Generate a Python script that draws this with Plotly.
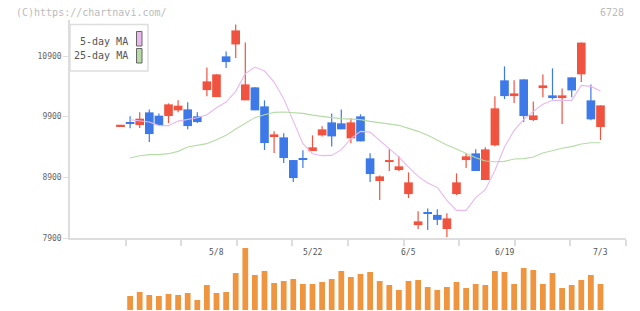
import plotly.graph_objects as go

dates = ["4/19","4/22","4/23","4/24","4/25","4/26","4/30",
         "5/1","5/2","5/7","5/8","5/9","5/10","5/13","5/14","5/15","5/16","5/17",
         "5/20","5/21","5/22","5/23","5/24","5/27","5/28","5/29","5/30","5/31",
         "6/3","6/4","6/5","6/6","6/7","6/10","6/11","6/12","6/13","6/14",
         "6/17","6/18","6/19","6/20","6/21","6/24","6/25","6/26","6/27","6/28",
         "7/1","7/2","7/3"]

opens  = [9745,9806,9762,9971,9916,9910,10004,10020,9905,10338,10223,10894,11091,10169,10383,10070,9580,
          9559,9185,9205,9333,9592,9806,9790,9542,9905,9213,8839,9152,9020,8624,8113,8322,8281,8048,
          8624,9185,9295,8856,9427,10499,10239,10515,9844,10371,10251,10207,10548,10598,10169,9729]
highs  = [9755,9905,9971,10020,9954,10119,10169,10136,9971,10712,10597,10976,11421,11124,10383,10169,9658,
          9625,9185,9345,9592,9740,9954,10020,9872,9938,9295,8932,9361,9246,8982,8339,8388,8372,8306,
          8965,9295,9361,9394,10235,10729,10499,10515,10152,10597,10696,10366,10548,11121,10432,10086]
lows   = [9745,9707,9712,9481,9762,9795,9971,9691,9795,10235,10223,10701,10866,10169,10004,9350,9300,
          9135,8822,9053,9333,9575,9410,9691,9460,9493,8822,8526,9004,9004,8558,8048,8030,8113,7915,
          8608,9053,9004,8856,9411,10190,10124,9811,9827,10218,10185,9778,10218,10470,9839,9514]
closes = [9755,9781,9867,9613,9762,10103,10081,9745,9811,10482,10597,10800,11322,10432,10004,9465,9608,
          9218,8888,9188,9394,9691,9575,9691,9806,9493,8954,8916,9185,9081,8817,8174,8306,8199,8223,
          8817,9246,9004,9361,10037,10239,10284,9910,9921,10416,10207,10251,10333,11121,9856,10086]

ma5  = [None,9850,9834,9811,9752,9752,9827,9860,9883,9933,10048,10141,10317,10609,10718,10652,10470,
        10197,9811,9455,9290,9257,9262,9356,9537,9658,9646,9509,9373,9234,9069,8916,8806,8735,8521,
        8356,8356,8565,8697,9013,9399,9674,9851,9987,10103,10169,10169,10169,10416,10399,10322]
ma25 = [None,9220,9257,9274,9274,9290,9328,9399,9432,9455,9521,9592,9696,9795,9884,9933,9971,
        9976,9966,9954,9926,9900,9884,9867,9860,9851,9823,9801,9785,9757,9707,9658,9592,9510,9432,
        9366,9295,9224,9168,9158,9163,9201,9208,9234,9300,9340,9378,9406,9449,9471,9471]

volumes = [None,14000,18000,15000,14000,16000,15000,17000,10000,25000,17000,18000,37000,62000,35000,39000,27000,
           29000,31000,26000,26000,28000,31000,39000,33000,36000,38000,29000,25000,20000,29000,30000,23000,
           20000,23000,28000,22000,26000,25000,39000,38000,26000,42000,40000,26000,37000,22000,25000,30000,
           35000,26000]

label_dates = ["5/8", "5/22", "6/5", "6/19", "7/3"]
ytick_vals = [7900, 8900, 9900, 10900]

RED = "#f05340"
BLUE = "#3e79e8"
ORANGE = "#f0953f"
PINK = "#e9b8ef"
GREEN = "#b6dba6"
AXIS = "#dddddd"

n = len(dates)
xs = list(range(n))
up = [c > o for o, c in zip(opens, closes)]
cols = [RED if u else BLUE for u in up]

fig = go.Figure()

# wicks
for flag, col in ((True, RED), (False, BLUE)):
    wx, wy = [], []
    for i in xs:
        if up[i] == flag:
            wx += [i, i, None]
            wy += [lows[i], highs[i], None]
    fig.add_trace(go.Scatter(x=wx, y=wy, mode="lines", line=dict(color=col, width=1.2),
                             hoverinfo="skip", showlegend=False))

# bodies
body_base = [min(o, c) for o, c in zip(opens, closes)]
body_h = [max(abs(c - o), 22) for o, c in zip(opens, closes)]
fig.add_trace(go.Bar(x=xs, y=body_h, base=body_base, width=0.9,
                     marker=dict(color=cols, line=dict(width=0)), showlegend=False))

# moving averages
fig.add_trace(go.Scatter(x=xs, y=ma5, mode="lines", line=dict(color=PINK, width=1.1), showlegend=False))
fig.add_trace(go.Scatter(x=xs, y=ma25, mode="lines", line=dict(color=GREEN, width=1.1), showlegend=False))

# volume
fig.add_trace(go.Bar(x=xs, y=volumes, width=0.6, marker=dict(color=ORANGE, line=dict(width=0)),
                     yaxis="y2", showlegend=False))

W, H = 640, 311
left_px, right_px = 70, 626
x0 = (left_px - 120.5) / 9.6
x1 = (right_px - 120.5) / 9.6
grid_ticks = [x0 + k * (x1 - x0) / 10 for k in range(1, 11)]

font = "DejaVu Sans Mono, Liberation Mono, monospace"

fig.update_layout(
    template="none",
    width=W, height=H, autosize=False,
    margin=dict(l=left_px, r=W - right_px, t=0, b=0, pad=0),
    paper_bgcolor="white", plot_bgcolor="white",
    barmode="overlay",
    showlegend=False,
    xaxis=dict(range=[x0, x1], showgrid=False, zeroline=False, showline=True, automargin=False,
               linecolor=AXIS, linewidth=1.5, ticks="outside", ticklen=6, tickcolor=AXIS,
               tickwidth=1.5, tickvals=grid_ticks, ticktext=[""] * len(grid_ticks),
               anchor="y", fixedrange=True),
    yaxis=dict(domain=[(H - 238) / H, (H - 20) / H], automargin=False,
               range=[7900, 7900 + 218 / 60.667 * 1000],
               showgrid=False, zeroline=False, showline=True, linecolor=AXIS, linewidth=1.5,
               ticks="outside", ticklen=5, tickcolor=AXIS, tickwidth=1,
               tickvals=ytick_vals, ticktext=[str(v) for v in ytick_vals],
               tickfont=dict(family=font, size=8, color="#666666")),
    yaxis2=dict(domain=[1 / H, (H - 248) / H], range=[0, max(v for v in volumes if v)],
                visible=False, anchor="x", automargin=False),
)

def px_x(p):
    return (p - left_px) / (right_px - left_px)

def px_y(p):
    return (H - p) / H

ann = []
ann.append(dict(x=px_x(14), y=px_y(12.5), xref="paper", yref="paper", text="(C)https://chartnavi.com/",
                showarrow=False, xanchor="left", yanchor="middle",
                font=dict(family=font, size=10, color="#bbbbbb")))
ann.append(dict(x=px_x(626), y=px_y(12.5), xref="paper", yref="paper", text="6728",
                showarrow=False, xanchor="right", yanchor="middle",
                font=dict(family=font, size=10, color="#bbbbbb")))
for d in label_dates:
    ann.append(dict(x=dates.index(d), y=px_y(252), xref="x", yref="paper", text=d,
                    showarrow=False, xanchor="center", yanchor="middle",
                    font=dict(family=font, size=8, color="#555555")))
ann.append(dict(x=px_x(130), y=px_y(41), xref="paper", yref="paper", text="5-day MA",
                showarrow=False, xanchor="right", yanchor="middle",
                font=dict(family=font, size=10, color="#555555")))
ann.append(dict(x=px_x(130), y=px_y(56), xref="paper", yref="paper", text="25-day MA",
                showarrow=False, xanchor="right", yanchor="middle",
                font=dict(family=font, size=10, color="#555555")))

shapes = [
    dict(type="rect", xref="paper", yref="paper", x0=px_x(70), x1=px_x(148), y0=px_y(71), y1=px_y(24.5),
         line=dict(color="#dddddd", width=1.5), fillcolor="white", layer="above"),
    dict(type="rect", xref="paper", yref="paper", x0=px_x(136.5), x1=px_x(142), y0=px_y(46), y1=px_y(31.5),
         line=dict(color="#666666", width=1), fillcolor=PINK, layer="above"),
    dict(type="rect", xref="paper", yref="paper", x0=px_x(136.5), x1=px_x(142), y0=px_y(63), y1=px_y(48.5),
         line=dict(color="#666666", width=1), fillcolor=GREEN, layer="above"),
]
fig.update_layout(annotations=ann, shapes=shapes)

fig.write_html("out.html")
